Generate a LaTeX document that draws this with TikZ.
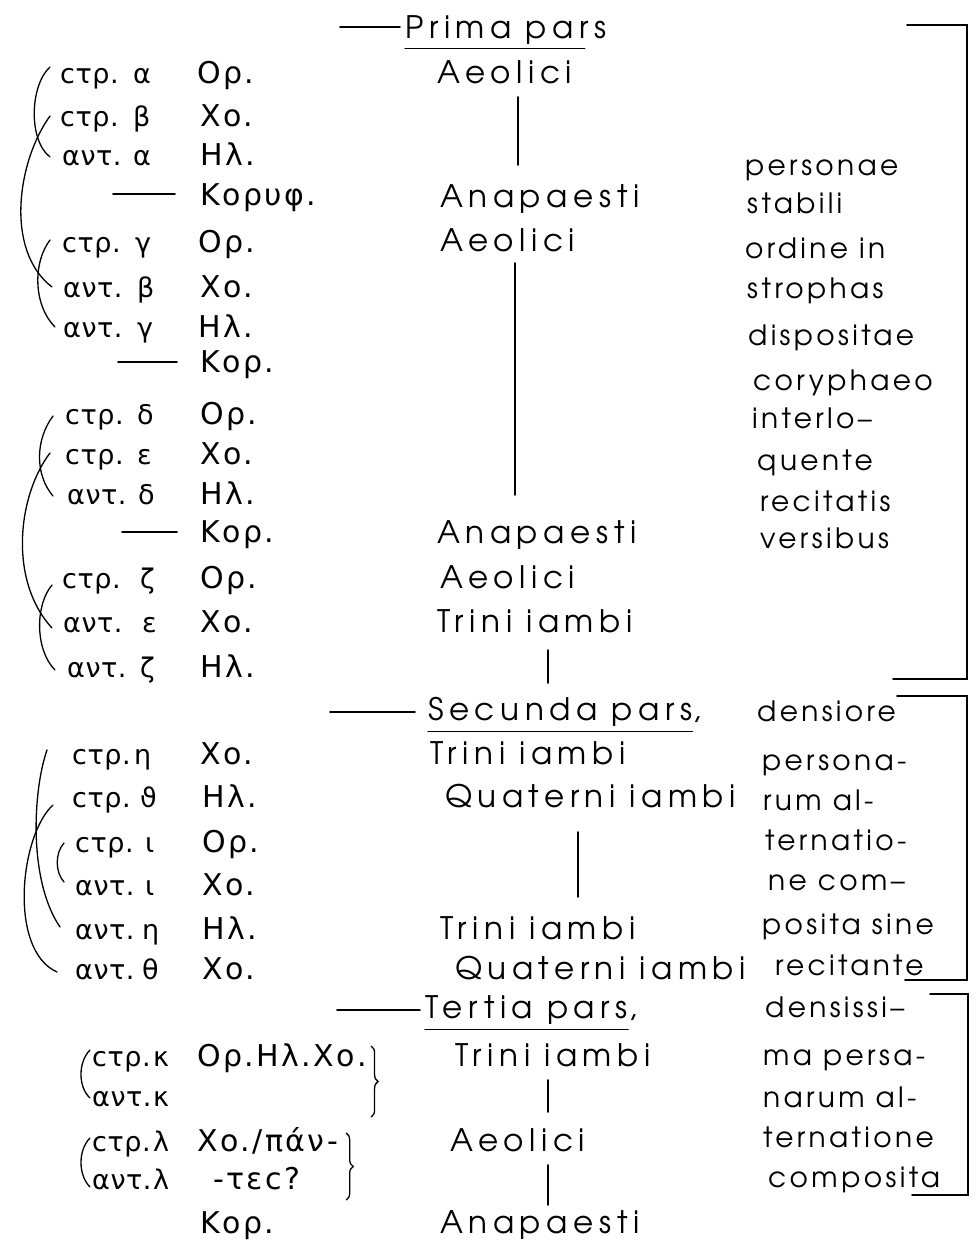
\documentclass[tikz,border=0pt]{standalone}
\usepackage{fontspec}
\usetikzlibrary{decorations.pathreplacing}
\IfFontExistsTF{TeX Gyre Adventor}{\newfontfamily\latf{TeX Gyre Adventor}[LetterSpace=12]\newfontfamily\latm{TeX Gyre Adventor}[LetterSpace=18]}{\newfontfamily\latf{Poppins}[LetterSpace=14]\newfontfamily\latm{Poppins}[LetterSpace=18]}
\IfFontExistsTF{Noto Sans Light}{\newfontfamily\grkf{Noto Sans Light}[LetterSpace=4]\newfontfamily\grks{Noto Sans Light}[LetterSpace=12]}{\newfontfamily\grkf{DejaVu Sans}[LetterSpace=2]\newfontfamily\grks{DejaVu Sans}[LetterSpace=8]}
\begin{document}
\begin{tikzpicture}[x=1pt,y=-1pt,
  lt/.style={anchor=base west, inner sep=0pt, font=\latf\fontsize{28}{34}\selectfont},
  mt/.style={anchor=base west, inner sep=0pt, font=\latm\fontsize{31}{38}\selectfont},
  gk/.style={anchor=base west, inner sep=0pt, font=\grkf\fontsize{27}{32}\selectfont},
  sp/.style={anchor=base west, inner sep=0pt, font=\grks\fontsize{30}{36}\selectfont},
  ln/.style={line width=1.6pt, line cap=round},
  thn/.style={line width=1.3pt, line cap=round},
  brc/.style={line width=1.3pt, decorate, decoration={brace, amplitude=7pt}}]
\useasboundingbox (0,0) rectangle (978,1247);
\fill[white] (0,0) rectangle (978,1247);

% ---------- middle column ----------
\node[mt] (prima) at (405,38) {Prima pars};
\coordinate (pa) at (340,27); \coordinate (pb) at (400,27);
\draw[ln] (pa) -- (pb);
\draw[thn] ([yshift=-4pt]prima.south west) -- ([xshift=-22pt,yshift=-4pt]prima.south east);
\node[mt] (m1) at (437,84) {Aeolici};
\node[mt] (m4) at (440,207) {Anapaesti};
\node[mt] (m5) at (440,251) {Aeolici};
\node[mt] (m12) at (437,543) {Anapaesti};
\node[mt] (m13) at (440,588) {Aeolici};
\node[mt] (m14) at (437,632) {Trini iambi};
\node[mt] (sec) at (428,720) {Secunda pars};
\node[mt] (secc) at (sec.base east) {,};
\draw[thn] ([yshift=-5pt]sec.south west) -- ([yshift=-5pt]sec.south east);
\coordinate (sa) at (330,712); \coordinate (sb) at (415,712);
\draw[ln] (sa) -- (sb);
\node[mt] (m17) at (430,764) {Trini iambi};
\node[mt] (m18) at (445,807) {Quaterni iambi};
\node[mt] (m21) at (440,939) {Trini iambi};
\node[mt] (m22) at (455,979) {Quaterni iambi};
\node[mt] (ter) at (425,1018) {Tertia pars};
\node[mt] (terc) at (ter.base east) {,};
\draw[thn] ([yshift=-5pt]ter.south west) -- ([yshift=-5pt]ter.south east);
\coordinate (ta) at (337,1010); \coordinate (tb) at (420,1010);
\draw[ln] (ta) -- (tb);
\node[mt] (m24) at (455,1066) {Trini iambi};
\node[mt] (m26) at (450,1151) {Aeolici};
\node[mt] (m28) at (440,1233) {Anapaesti};

% vertical strokes
\coordinate (v1a) at (518,97);  \coordinate (v1b) at (518,165);
\coordinate (v2a) at (515,263); \coordinate (v2b) at (515,495);
\coordinate (v3a) at (548,650); \coordinate (v3b) at (548,683);
\coordinate (v4a) at (578,832); \coordinate (v4b) at (578,897);
\coordinate (v5a) at (548,1080); \coordinate (v5b) at (548,1112);
\coordinate (v6a) at (548,1165); \coordinate (v6b) at (548,1205);
\foreach \i in {1,...,6} {\draw[ln] (v\i a) -- (v\i b);}

% ---------- right column ----------
\node[lt] (r1) at (745,175) {personae};
\node[lt] (r2) at (747,213) {stabili};
\node[lt] (r3) at (745,258) {ordine in};
\node[lt] (r4) at (747,298) {strophas};
\node[lt] (r5) at (748,345) {dispositae};
\node[lt] (r6) at (753,390) {coryphaeo};
\node[lt] (r7) at (752,428) {interlo–};
\node[lt] (r8) at (757,470) {quente};
\node[lt] (r9) at (760,511) {recitatis};
\node[lt] (r10) at (760,548) {versibus};
\node[lt] (r11) at (757,721) {densiore};
\node[lt] (r12) at (762,770) {persona-};
\node[lt] (r13) at (763,810) {rum al-};
\node[lt] (r14) at (765,850) {ternatio-};
\node[lt] (r15) at (768,890) {ne com–};
\node[lt] (r16) at (762,934) {posita sine};
\node[lt] (r17) at (775,975) {recitante};
\node[lt] (r18) at (765,1017) {densissi–};
\node[lt] (r19) at (763,1065) {ma persa-};
\node[lt] (r20) at (763,1107) {narum al-};
\node[lt] (r21) at (763,1147) {ternatione};
\node[lt] (r22) at (768,1187) {composita};

% brackets on the right
\coordinate (b1a) at (907,25);  \coordinate (b1b) at (967,25);
\coordinate (b1c) at (967,679); \coordinate (b1d) at (893,679);
\coordinate (b2a) at (897,696); \coordinate (b2b) at (967,696);
\coordinate (b2c) at (967,980); \coordinate (b2d) at (905,980);
\coordinate (b3a) at (930,994); \coordinate (b3b) at (968,994);
\coordinate (b3c) at (968,1195); \coordinate (b3d) at (912,1195);
\draw[ln] (b1a) -- (b1b) -- (b1c) -- (b1d);
\draw[ln] (b2a) -- (b2b) -- (b2c) -- (b2d);
\draw[ln] (b3a) -- (b3b) -- (b3c) -- (b3d);

% ---------- left column ----------
\node[gk] (s1) at (60,84) {ϲτρ.};   \node[gk] (g1) at (133,84) {α};  \node[sp] (p1) at (197,84) {Ορ.};
\node[gk] (s2) at (60,126) {ϲτρ.};  \node[gk] (g2) at (133,126) {β}; \node[sp] (p2) at (200,126) {Χο.};
\node[gk] (s3) at (62,165) {αντ.};  \node[gk] (g3) at (133,165) {α}; \node[sp] (p3) at (200,165) {Ηλ.};
\node[sp] (p4) at (200,205) {Κορυφ.};
\coordinate (d4a) at (113,194); \coordinate (d4b) at (175,194); \draw[ln] (d4a) -- (d4b);
\node[gk] (s5) at (62,252) {ϲτρ.};  \node[gk] (g5) at (135,252) {γ}; \node[sp] (p5) at (198,252) {Ορ.};
\node[gk] (s6) at (63,297) {αντ.};  \node[gk] (g6) at (137,297) {β}; \node[sp] (p6) at (200,297) {Χο.};
\node[gk] (s7) at (63,337) {αντ.};  \node[gk] (g7) at (137,337) {γ}; \node[sp] (p7) at (198,337) {Ηλ.};
\node[sp] (p8) at (200,372) {Κορ.};
\coordinate (d8a) at (118,362); \coordinate (d8b) at (177,362); \draw[ln] (d8a) -- (d8b);
\node[gk] (s9) at (65,424) {ϲτρ.};  \node[gk] (g9) at (137,424) {δ}; \node[sp] (p9) at (200,424) {Ορ.};
\node[gk] (s10) at (65,464) {ϲτρ.}; \node[gk] (g10) at (137,464) {ε}; \node[sp] (p10) at (200,464) {Χο.};
\node[gk] (s11) at (67,504) {αντ.}; \node[gk] (g11) at (138,504) {δ}; \node[sp] (p11) at (200,504) {Ηλ.};
\node[sp] (p12) at (200,542) {Κορ.};
\coordinate (d12a) at (122,532); \coordinate (d12b) at (177,532); \draw[ln] (d12a) -- (d12b);
\node[gk] (s13) at (62,588) {ϲτρ.};  \node[gk] (g13) at (140,588) {ζ}; \node[sp] (p13) at (200,588) {Ορ.};
\node[gk] (s14) at (63,632) {αντ.};  \node[gk] (g14) at (142,632) {ε}; \node[sp] (p14) at (200,632) {Χο.};
\node[gk] (s15) at (67,677) {αντ.};  \node[gk] (g15) at (140,677) {ζ}; \node[sp] (p15) at (200,677) {Ηλ.};
\node[gk] (s17) at (72,764) {ϲτρ.};  \node[gk] (g17) at (134,764) {η}; \node[sp] (p17) at (200,764) {Χο.};
\node[gk] (s18) at (72,807) {ϲτρ.};  \node[gk] (g18) at (140,807) {ϑ}; \node[sp] (p18) at (202,807) {Ηλ.};
\node[gk] (s19) at (75,852) {ϲτρ.};  \node[gk] (g19) at (145,852) {ι}; \node[sp] (p19) at (202,852) {Ορ.};
\node[gk] (s20) at (75,895) {αντ.};  \node[gk] (g20) at (145,895) {ι}; \node[sp] (p20) at (202,895) {Χο.};
\node[gk] (s21) at (75,939) {αντ.};  \node[gk] (g21) at (142,939) {η}; \node[sp] (p21) at (202,939) {Ηλ.};
\node[gk] (s22) at (75,979) {αντ.};  \node[gk] (g22) at (142,979) {θ}; \node[sp] (p22) at (202,979) {Χο.};
\node[gk] (s24) at (92,1066) {ϲτρ.}; \node[gk] (g24) at (153,1066) {κ}; \node[sp] (p24) at (197,1066) {Ορ.Ηλ.Χο.};
\node[gk] (s25) at (92,1106) {αντ.}; \node[gk] (g25) at (153,1106) {κ};
\node[gk] (s26) at (92,1151) {ϲτρ.}; \node[gk] (g26) at (153,1151) {λ}; \node[sp] (p26) at (197,1151) {Χο./πάν-};
\node[gk] (s27) at (92,1189) {αντ.}; \node[gk] (g27) at (153,1189) {λ}; \node[sp] (p27) at (213,1189) {-τεϲ?};
\node[sp] (p28) at (200,1233) {Κορ.};

% braces after Ορ.Ηλ.Χο. and πάν-
\coordinate (k1) at ([xshift=4pt]p24.east);
\coordinate (k2) at ([xshift=8pt]p26.east);
\draw[brc] (k1 |- 0,1046) -- (k1 |- 0,1117);
\draw[brc] (k2 |- 0,1133) -- (k2 |- 0,1200);

% left hand linking curves
\draw[thn] (50,67) .. controls (30,85) and (28,140) .. (50,157);
\draw[thn] (50,116) .. controls (18,160) and (4,250) .. (52,287);
\draw[thn] (50,240) .. controls (33,262) and (33,305) .. (55,327);
\draw[thn] (53,416) .. controls (35,440) and (35,475) .. (53,496);
\draw[thn] (50,453) .. controls (18,495) and (8,580) .. (52,628);
\draw[thn] (52,585) .. controls (35,605) and (35,650) .. (55,670);
\draw[thn] (47,750) .. controls (33,790) and (28,880) .. (60,927);
\draw[thn] (53,805) .. controls (20,835) and (8,950) .. (57,972);
\draw[thn] (64,843) .. controls (55,853) and (55,872) .. (64,882);
\draw[thn] (90,1050) .. controls (78,1062) and (78,1087) .. (90,1098);
\draw[thn] (90,1138) .. controls (78,1150) and (78,1175) .. (90,1187);
\end{tikzpicture}
\end{document}
